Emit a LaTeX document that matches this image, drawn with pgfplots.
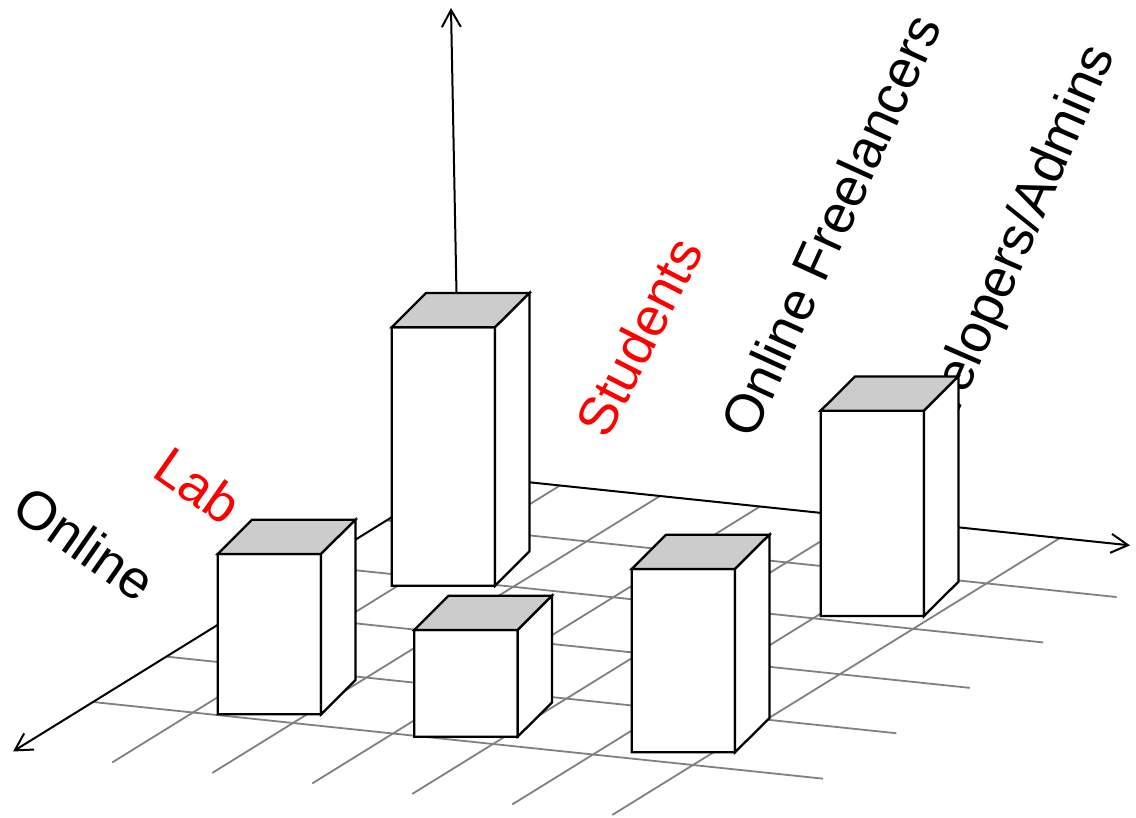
\documentclass[border=0pt]{standalone}
\usepackage{fontspec}
\setmainfont{Liberation Sans}
\usepackage{pgfplots}
\pgfplotsset{compat=1.18}
\usetikzlibrary{arrows.meta}
\definecolor{topgray}{HTML}{CCCCCC}
\definecolor{gridgray}{HTML}{808080}
\tikzset{
  barface/.style={draw=black, fill=white, line width=1.15pt, line join=miter},
  axisline/.style={black, line width=1pt, -{Straight Barb[length=8.5pt,width=9.5pt]}},
  lab/.style={font=\fontsize{27pt}{32pt}\selectfont, inner sep=0pt},
}
% bar footprint: screen-horizontal width and 45-degree depth, in axis units
\def\bwx{-0.2044}\def\bwy{0.8838}
\def\bdx{-0.7139}\def\bdy{-0.1800}
\newcommand{\drawbar}[3]{% #1 = x, #2 = y (front-left corner), #3 = value
  \pgfmathsetmacro\xa{#1}\pgfmathsetmacro\ya{#2}%
  \pgfmathsetmacro\xb{#1+\bwx}\pgfmathsetmacro\yb{#2+\bwy}%
  \pgfmathsetmacro\xc{#1+\bwx+\bdx}\pgfmathsetmacro\yc{#2+\bwy+\bdy}%
  \pgfmathsetmacro\xd{#1+\bdx}\pgfmathsetmacro\yd{#2+\bdy}%
  \edef\doit{%
    \noexpand\addplot3[barface] coordinates {(\xa,\ya,0) (\xb,\yb,0) (\xb,\yb,#3) (\xa,\ya,#3)} --cycle;
    \noexpand\addplot3[barface, fill=topgray] coordinates {(\xa,\ya,#3) (\xb,\yb,#3) (\xc,\yc,#3) (\xd,\yd,#3)} --cycle;
    \noexpand\addplot3[barface] coordinates {(\xb,\yb,0) (\xc,\yc,0) (\xc,\yc,#3) (\xb,\yb,#3)} --cycle;
  }\doit}
\begin{document}
\begin{tikzpicture}
\useasboundingbox (-230pt,-171.5pt) rectangle (338pt,237.5pt);
\begin{axis}[
  x={(-36.7pt,-22.7pt)}, y={(50pt,-5.25pt)}, z={(0pt,5pt)},
  anchor=origin, at={(0pt,0pt)},
  xmin=0, xmax=6.1, ymin=0, ymax=7.3, zmin=0, zmax=47,
  hide axis, clip=false,
  every axis plot/.append style={mark=none},
]
% floor grid
\pgfplotsinvokeforeach{1,2,3,4,5}{
  \addplot3[gridgray, line width=0.9pt] coordinates {(#1,0,0) (#1,7.3,0)};
}
\pgfplotsinvokeforeach{1,2,3,4,5,6}{
  \addplot3[gridgray, line width=0.9pt] coordinates {(0,#1,0) (6.1,#1,0)};
}
% axes
\addplot3[axisline] coordinates {(0,0,0) (6.09,0,0)};
\addplot3[axisline] coordinates {(0,0,0) (0,6.7,0)};
\addplot3[axisline] coordinates {(0,0,0) (0.0178,-0.0769,46.7)};
% category labels
\node[lab, rotate=-35] at (axis cs:5.109,0,16.34) {Online};
\node[lab, rotate=-35, text=red] at (axis cs:3.569,0,15.2) {Lab};
\node[lab, rotate=63, text=red] at (axis cs:0,1.79,15.68) {Students};
\node[lab, rotate=65.5] at (axis cs:0,3.71,28.9) {Online Freelancers};
\node[lab, rotate=66.5] at (axis cs:0,5.49,26.9) {Developers/Admins};
% bars: back row (Lab), then front row (Online)
\drawbar{2.2195}{0.946}{25.84}
\drawbar{1.942}{5.032}{20.53}
\drawbar{4.985}{1.236}{16.03}
\drawbar{5.018}{3.226}{10.67}
\drawbar{4.882}{5.300}{18.33}
\end{axis}
\end{tikzpicture}
\end{document}
